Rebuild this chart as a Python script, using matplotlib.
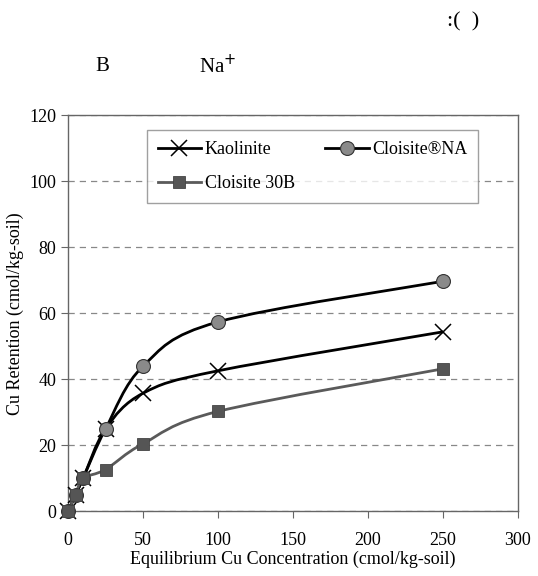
import matplotlib.pyplot as plt
import numpy as np
from matplotlib.path import Path
from matplotlib.patches import PathPatch
from matplotlib.lines import Line2D

plt.rcParams['font.family'] = ['Liberation Serif', 'DejaVu Serif']

conc = [0, 5, 10, 25, 50, 100, 250]
kaolinite = [0, 5, 10, 25, 35.8, 42.6, 54.4]
cloisite_na = [0, 5, 10, 25, 44, 57.4, 69.7]
cloisite_30b = [0, 5, 10, 12.7, 20.5, 30.3, 43.2]


def smooth_path(x, y):
    # Excel-style smoothed line: Catmull-Rom segments as cubic Bezier
    x = np.asarray(x, float)
    y = np.asarray(y, float)
    verts = [(x[0], y[0])]
    codes = [Path.MOVETO]
    n = len(x)
    for i in range(n - 1):
        x0, y0 = (x[i - 1], y[i - 1]) if i > 0 else (x[i], y[i])
        x3, y3 = (x[i + 2], y[i + 2]) if i + 2 < n else (x[i + 1], y[i + 1])
        c1 = (x[i] + (x[i + 1] - x0) / 6, y[i] + (y[i + 1] - y0) / 6)
        c2 = (x[i + 1] - (x3 - x[i]) / 6, y[i + 1] - (y3 - y[i]) / 6)
        verts += [c1, c2, (x[i + 1], y[i + 1])]
        codes += [Path.CURVE4] * 3
    return Path(verts, codes)


fig = plt.figure(figsize=(5.38, 5.76), dpi=100)
ax = fig.add_axes([0.1264, 0.112, 0.8364, 0.688])

series = [
    (kaolinite, 'Kaolinite', '#000000', 2.0, dict(marker='x', markersize=11, markeredgecolor='#000000', markeredgewidth=1.1)),
    (cloisite_na, 'Cloisite®NA', '#000000', 2.0, dict(marker='o', markersize=10, markerfacecolor='#8a8a8a', markeredgecolor='#333333', markeredgewidth=0.8)),
    (cloisite_30b, 'Cloisite 30B', '#5a5a5a', 2.0, dict(marker='s', markersize=8, markerfacecolor='#555555', markeredgecolor='#444444', markeredgewidth=0.6)),
]

handles = {}
for vals, name, col, lw, mk in series:
    ax.add_patch(PathPatch(smooth_path(conc, vals), facecolor='none', edgecolor=col, lw=lw, zorder=3))
    ax.plot(conc, vals, linestyle='none', zorder=4, clip_on=False, **mk)
    handles[name] = Line2D([], [], color=col, lw=lw, **mk)

ax.set_xlim(0, 300)
ax.set_ylim(0, 120)
ax.set_xticks(range(0, 301, 50))
ax.set_yticks(range(0, 121, 20))
ax.yaxis.grid(True, linestyle=(0, (5, 4)), color='#888888', lw=0.9)
ax.set_axisbelow(True)
for s in ['left', 'bottom', 'right', 'top']:
    ax.spines[s].set_color('#666666')
    ax.spines[s].set_linewidth(1.0)
ax.tick_params(direction='out', length=5, color='#666666', labelsize=13, width=0.8)
ax.tick_params(axis='x', pad=10)

ax.set_xlabel('Equilibrium Cu Concentration (cmol/kg-soil)', fontsize=13, labelpad=1)
ax.set_ylabel('Cu Retention (cmol/kg-soil)', fontsize=13, labelpad=4)

# column-major fill: row 1 = Kaolinite, Cloisite NA; row 2 = Cloisite 30B
order = ['Kaolinite', 'Cloisite 30B', 'Cloisite®NA']
leg = ax.legend([handles[k] for k in order], order, ncol=2, loc='upper left',
                bbox_to_anchor=(0.175, 0.962), frameon=True, fancybox=False,
                fontsize=13, handlelength=2.4, columnspacing=1.7, borderpad=0.6,
                labelspacing=0.95, handletextpad=0.2, borderaxespad=0)
leg.get_frame().set_edgecolor('#888888')
leg.get_frame().set_linewidth(1.0)

fig.text(0.83, 0.962, ':(  )', fontsize=16, ha='left', va='center')
fig.text(0.178, 0.884, 'B', fontsize=15, ha='left', va='center')
fig.text(0.37, 0.884, 'Na$^{+}$', fontsize=15, ha='left', va='center')

fig.savefig('out.png', dpi=100)
